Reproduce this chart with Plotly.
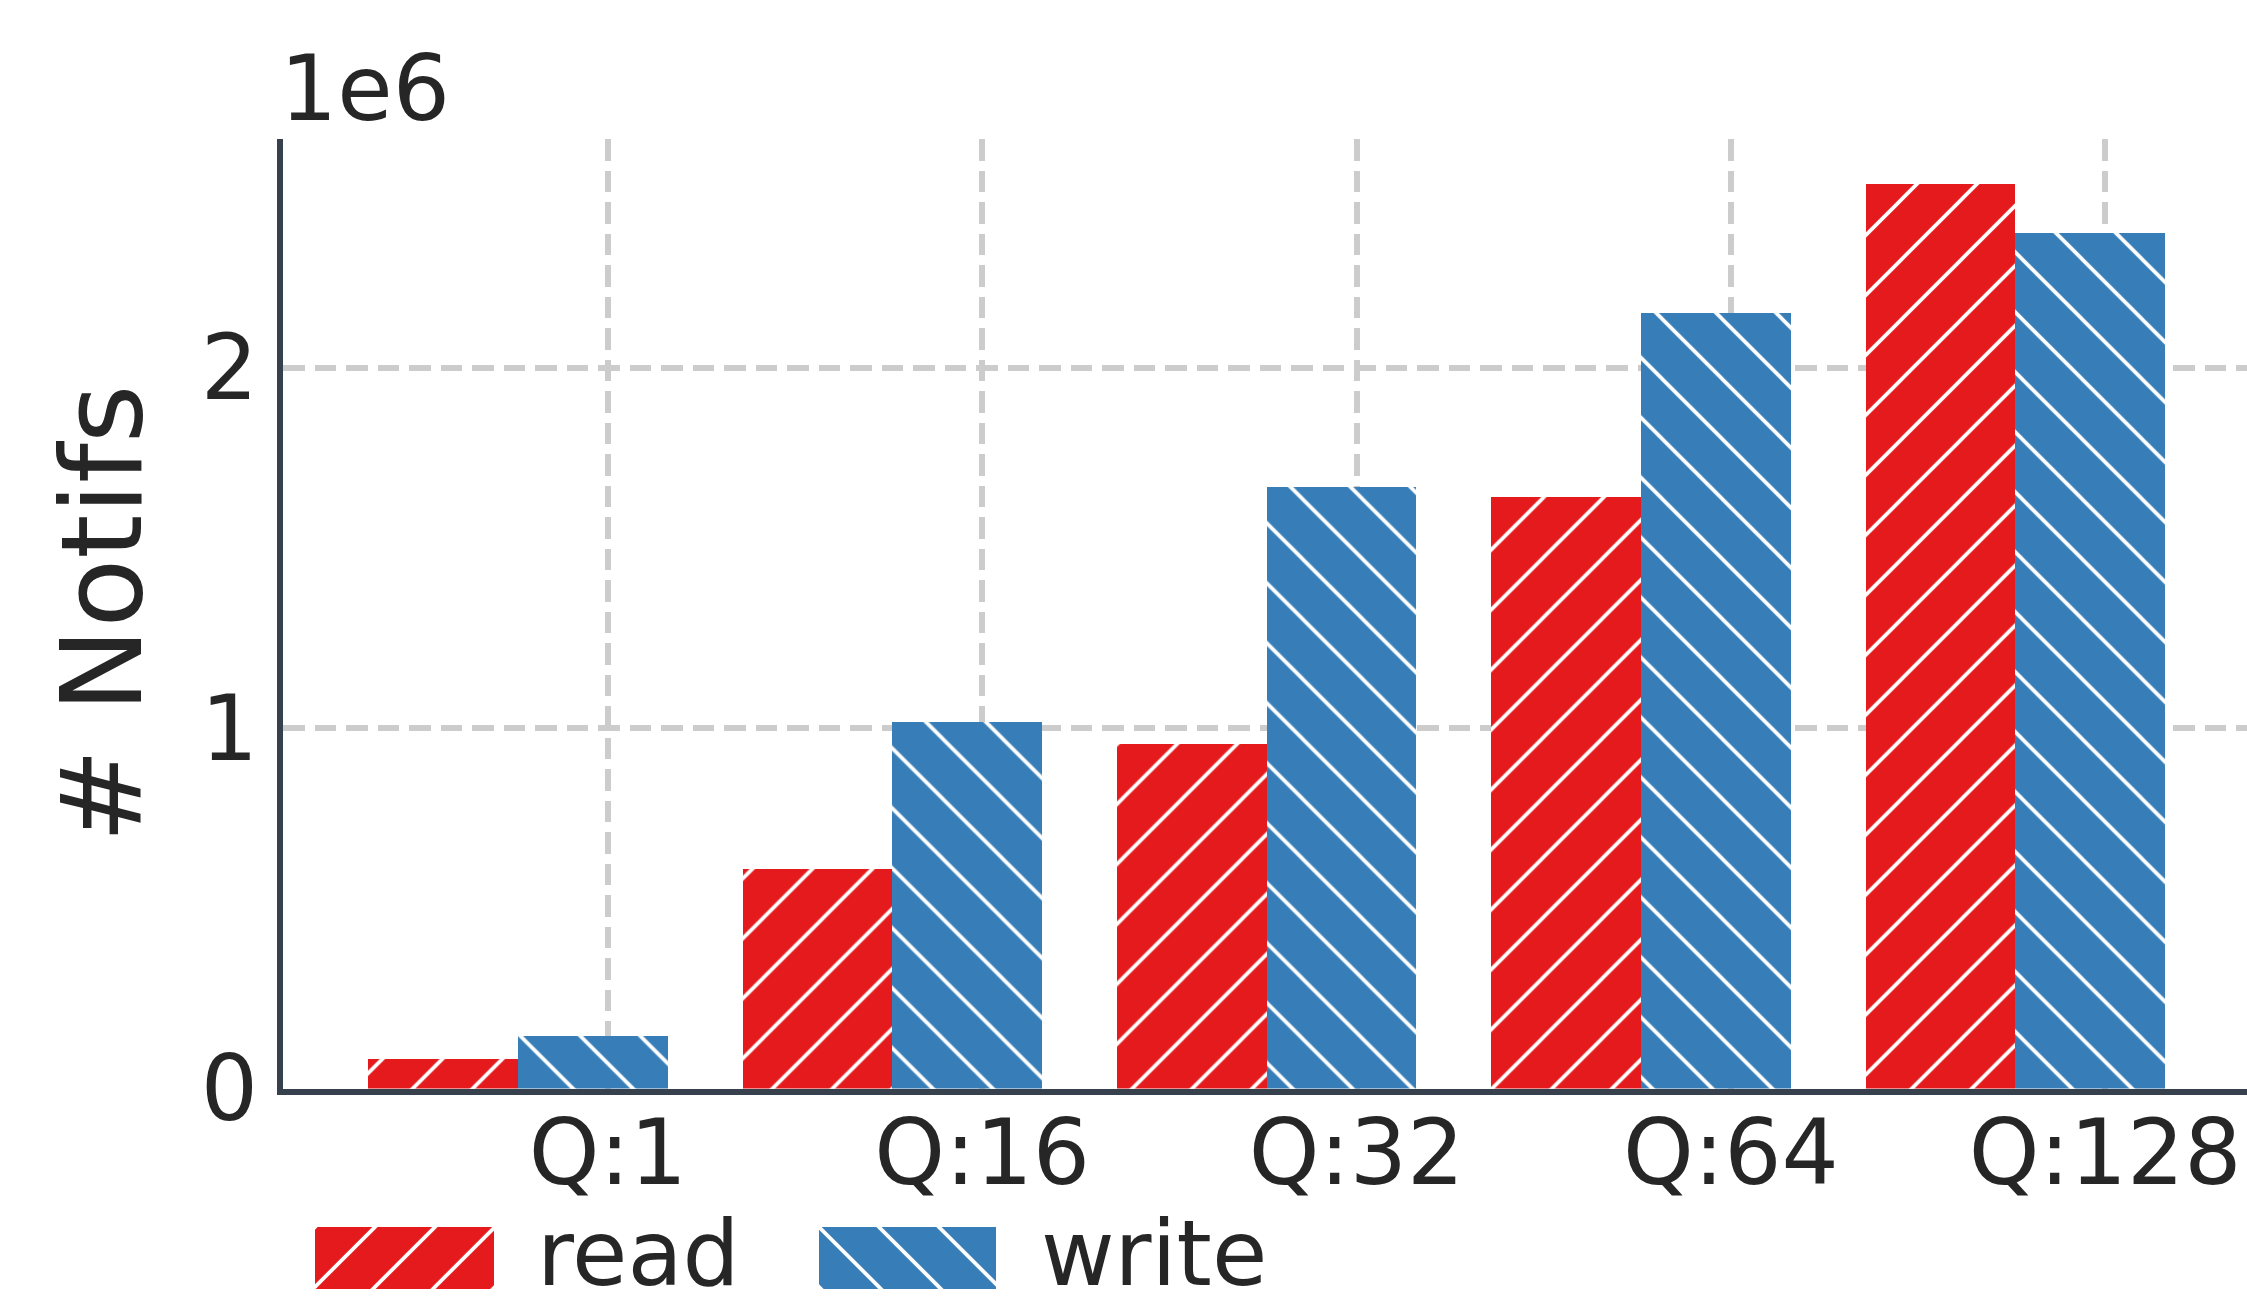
import plotly.graph_objects as go

# Notification counts per queue depth
categories = ["Q:1", "Q:16", "Q:32", "Q:64", "Q:128"]
read_notifs = [0.081e6, 0.609e6, 0.956e6, 1.640e6, 2.509e6]
write_notifs = [0.145e6, 1.017e6, 1.670e6, 2.151e6, 2.373e6]
y_tick_values = [0, 1e6, 2e6]
y_tick_labels = ["0", "1", "2"]
series_names = ["read", "write"]

RED = "#e41a1c"
BLUE = "#377eb8"
TEXT = "#262626"
SPINE = "#36414d"
GRID = "#cccccc"
FONT = "DejaVu Sans"

W, H = 2247, 1296
ML, MT = 283, 139          # left / top margins in px
PLOT_BOTTOM = 1088.5       # px row of the plot-area bottom edge
BAR_W = 0.4


def px_x(p):
    return (p - ML) / (W - ML)


def px_y(p):
    return (H - p) / (H - MT)


def hatch(shape):
    # size is the perpendicular spacing of the diagonal hatch lines
    return dict(shape=shape, fgcolor="white", fgopacity=1, size=42.4,
                solidity=0.088, fillmode="overlay")


fig = go.Figure()
xs = list(range(len(categories)))

fig.add_trace(go.Bar(
    x=[i - 0.44 for i in xs], y=read_notifs, width=BAR_W, name=series_names[0],
    marker=dict(color=RED, line=dict(width=0), pattern=hatch("/")),
    showlegend=False,
))
fig.add_trace(go.Bar(
    x=[i - 0.04 for i in xs], y=write_notifs, width=BAR_W, name=series_names[1],
    marker=dict(color=BLUE, line=dict(width=0), pattern=hatch("\\")),
    showlegend=False,
))

# legend swatches, each on its own small axis so the hatch can be shown large
fig.add_trace(go.Bar(x=[0], y=[1], width=[1], xaxis="x2", yaxis="y2",
                     marker=dict(color=RED, line=dict(width=0), pattern=hatch("/")),
                     showlegend=False, hoverinfo="skip"))
fig.add_trace(go.Bar(x=[0], y=[1], width=[1], xaxis="x3", yaxis="y2",
                     marker=dict(color=BLUE, line=dict(width=0), pattern=hatch("\\")),
                     showlegend=False, hoverinfo="skip"))

axis_common = dict(
    showgrid=True, gridcolor=GRID, gridwidth=5.5, griddash="21.5px,10px",
    showline=True, linecolor=SPINE, linewidth=6, ticks="", zeroline=False,
    automargin=False,
    tickfont=dict(family=FONT, size=90, color=TEXT),
)

hidden = dict(visible=False, showgrid=False, zeroline=False, fixedrange=True,
              automargin=False)

fig.update_layout(
    width=W, height=H,
    margin=dict(l=ML, r=0, t=MT, b=0, pad=0, autoexpand=False),
    paper_bgcolor="white", plot_bgcolor="white",
    barmode="overlay", bargap=0,
    font=dict(family=FONT, color=TEXT),
    xaxis=dict(domain=[0, 1], range=[-0.868, 4.379], tickvals=xs,
               ticktext=categories, ticklabelstandoff=-19, **axis_common),
    yaxis=dict(domain=[px_y(PLOT_BOTTOM), 1], range=[0, 2.634e6],
               tickvals=y_tick_values, ticktext=y_tick_labels,
               ticklabelstandoff=1, **axis_common),
    xaxis2=dict(domain=[px_x(315), px_x(494)], range=[-0.5, 0.5], anchor="y2", **hidden),
    xaxis3=dict(domain=[px_x(819), px_x(996)], range=[-0.5, 0.5], anchor="y2", **hidden),
    yaxis2=dict(domain=[px_y(1289), px_y(1227)], range=[0, 1], anchor="x2", **hidden),
    annotations=[
        dict(text="1e6", xref="paper", yref="paper", x=px_x(278), y=px_y(88),
             xanchor="left", yanchor="middle", showarrow=False,
             font=dict(family=FONT, size=90, color=TEXT)),
        dict(text="# Notifs", xref="paper", yref="paper", x=px_x(102), y=px_y(614),
             xanchor="center", yanchor="middle", textangle=-90, showarrow=False,
             font=dict(family=FONT, size=113, color=TEXT)),
        dict(text=series_names[0], xref="paper", yref="paper", x=px_x(535), y=px_y(1253),
             xanchor="left", yanchor="middle", showarrow=False,
             font=dict(family=FONT, size=90, color=TEXT)),
        dict(text=series_names[1], xref="paper", yref="paper", x=px_x(1039), y=px_y(1253),
             xanchor="left", yanchor="middle", showarrow=False,
             font=dict(family=FONT, size=90, color=TEXT)),
    ],
)

fig.write_html("out.html")
